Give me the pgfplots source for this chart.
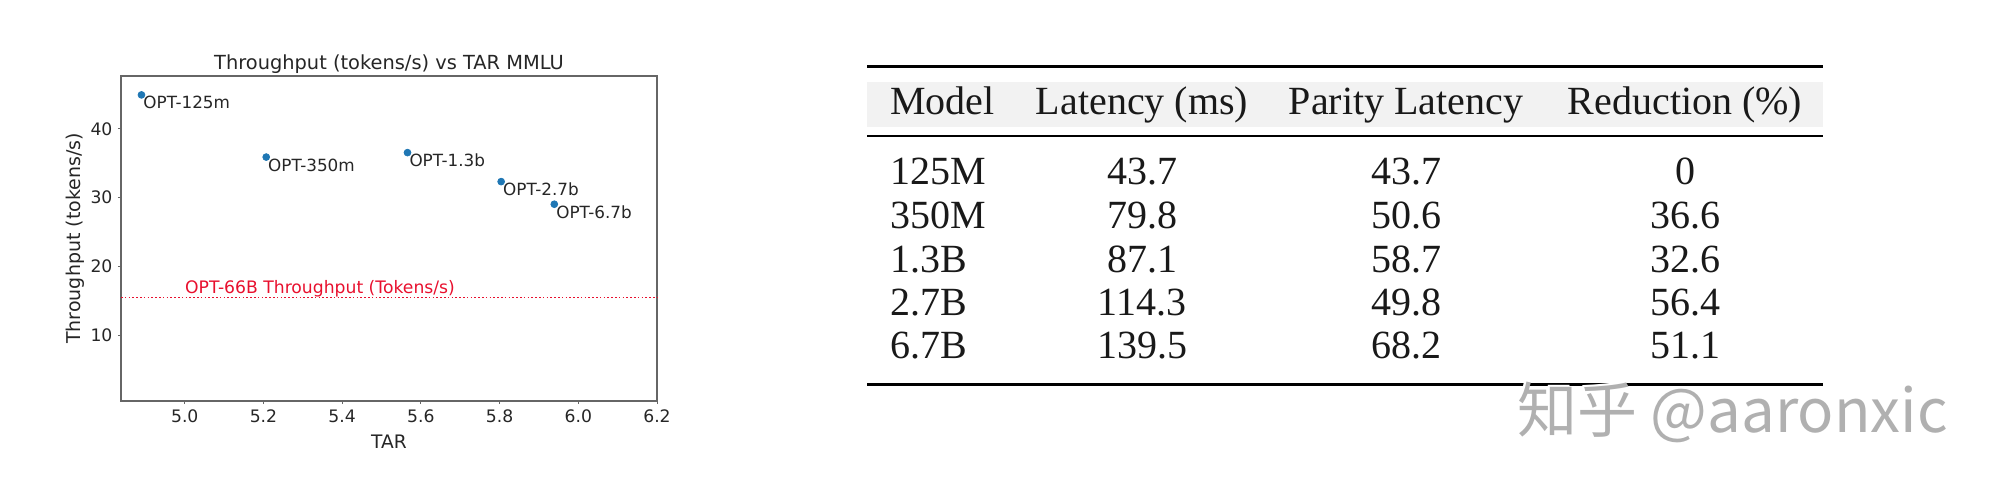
\documentclass[border=0pt]{standalone}
\usepackage{fontspec}
\setmainfont{DejaVu Sans}
\newfontfamily\tabfont{Liberation Serif}
\newfontfamily\cjk{Noto Sans CJK SC}
\usepackage{pgfplots}
\pgfplotsset{compat=1.18}
\definecolor{mplblue}{HTML}{1F77B4}
\definecolor{linered}{HTML}{E8102E}
\definecolor{hdrgray}{HTML}{F2F2F2}
\definecolor{wmgray}{HTML}{B0B0B0}
\definecolor{framegray}{HTML}{666666}

\pgfplotstableread{
x y label
4.890 44.95 OPT-125m
5.207 35.90 OPT-350m
5.566 36.55 OPT-1.3b
5.804 32.33 OPT-2.7b
5.939 29.04 OPT-6.7b
}\scatterdata

\begin{document}
\begin{tikzpicture}
\useasboundingbox (0pt,0pt) rectangle (1000pt,-246pt);
\begin{axis}[
  at={(60.5pt,-200.5pt)}, anchor=south west,
  scale only axis, width=268pt, height=162.5pt,
  xmin=4.838, xmax=6.2, ymin=0.4, ymax=47.7,
  xtick={5.0,5.2,5.4,5.6,5.8,6.0,6.2},
  ytick={10,20,30,40},
  tick pos=left,
  axis line style={framegray, line width=0.7pt},
  tick style={framegray, line width=0.5pt},
  tick align=outside, major tick length=1.6pt,
  /pgf/number format/assume math mode=true,
  tick label style={font=\fontsize{8.6}{10}\selectfont, text=black!85},
  xticklabel style={/pgf/number format/.cd, fixed, fixed zerofill, precision=1, /tikz/.cd, anchor=base, yshift=-9pt},
  yticklabel style={anchor=east, inner sep=0pt, xshift=-2.5pt},
  xlabel={TAR},
  xlabel style={at={(axis description cs:0.5,0)}, anchor=base, yshift=-23.5pt, font=\fontsize{9.3}{11}\selectfont, text=black!85},
  ylabel={Throughput (tokens/s)},
  ylabel style={at={(axis description cs:-0.0858,0.5)}, anchor=center, font=\fontsize{9.5}{11}\selectfont, text=black!85},
  title={Throughput (tokens/s) vs TAR MMLU},
  every axis title/.style={at={(axis description cs:0.5,1)}, anchor=base, yshift=3pt, font=\fontsize{9.7}{11}\selectfont, text=black!85},
  clip=false,
]
\addplot[linered, line width=0.8pt, dash pattern=on 0.8pt off 1.1pt] coordinates {(4.838,15.44) (6.2,15.44)};
\node[anchor=base west, inner sep=0pt, text=linered, font=\fontsize{8.6}{10}\selectfont] at (axis cs:5.0,15.98) {OPT-66B Throughput (Tokens/s)};
\addplot[only marks, mark=*, mark size=1.7pt, mark options={fill=mplblue, draw=mplblue},
  nodes near coords, point meta=explicit symbolic,
  nodes near coords style={anchor=north west, inner sep=0pt, font=\fontsize{8.4}{10}\selectfont, text=black!85, xshift=0.8pt, yshift=-0.6pt}]
  table[x=x, y=y, meta=label] {\scatterdata};
\end{axis}

% table
\fill[hdrgray] (433.5pt,-41pt) rectangle (911.5pt,-63.5pt);
\draw[line width=1.35pt] (433.5pt,-33.35pt) -- (911.5pt,-33.35pt);
\draw[line width=1pt] (433.5pt,-68pt) -- (911.5pt,-68pt);
\draw[line width=1.5pt] (433.5pt,-192pt) -- (911.5pt,-192pt);
\begin{scope}[every node/.style={inner sep=0pt, font=\tabfont\fontsize{20}{24}\selectfont, text=black!90}]
\node[anchor=base west] at (445pt,-57pt) {Model};
\node[anchor=base] at (571pt,-57pt) {Latency (ms)};
\node[anchor=base] at (703pt,-57pt) {Parity Latency};
\node[anchor=base] at (842.5pt,-57pt) {Reduction (\%)};
\foreach \m/\a/\b/\c/\yy in {125M/43.7/43.7/0/92, 350M/79.8/50.6/36.6/114, 1.3B/87.1/58.7/32.6/136, 2.7B/114.3/49.8/56.4/157.75, 6.7B/139.5/68.2/51.1/179}{
  \node[anchor=base west] at (445pt,-\yy pt) {\m};
  \node[anchor=base] at (571pt,-\yy pt) {\a};
  \node[anchor=base] at (703pt,-\yy pt) {\b};
  \node[anchor=base] at (842.5pt,-\yy pt) {\c};
}
\end{scope}

% watermark
\node[anchor=base west, inner sep=0pt, text=white, font=\cjk\fontsize{30}{33}\selectfont] at (757.5pt,-215pt) {知乎 @aaronxic};
\node[anchor=base west, inner sep=0pt, text=wmgray, font=\cjk\fontsize{30}{33}\selectfont] at (758.5pt,-216pt) {知乎 @aaronxic};
\end{tikzpicture}
\end{document}
